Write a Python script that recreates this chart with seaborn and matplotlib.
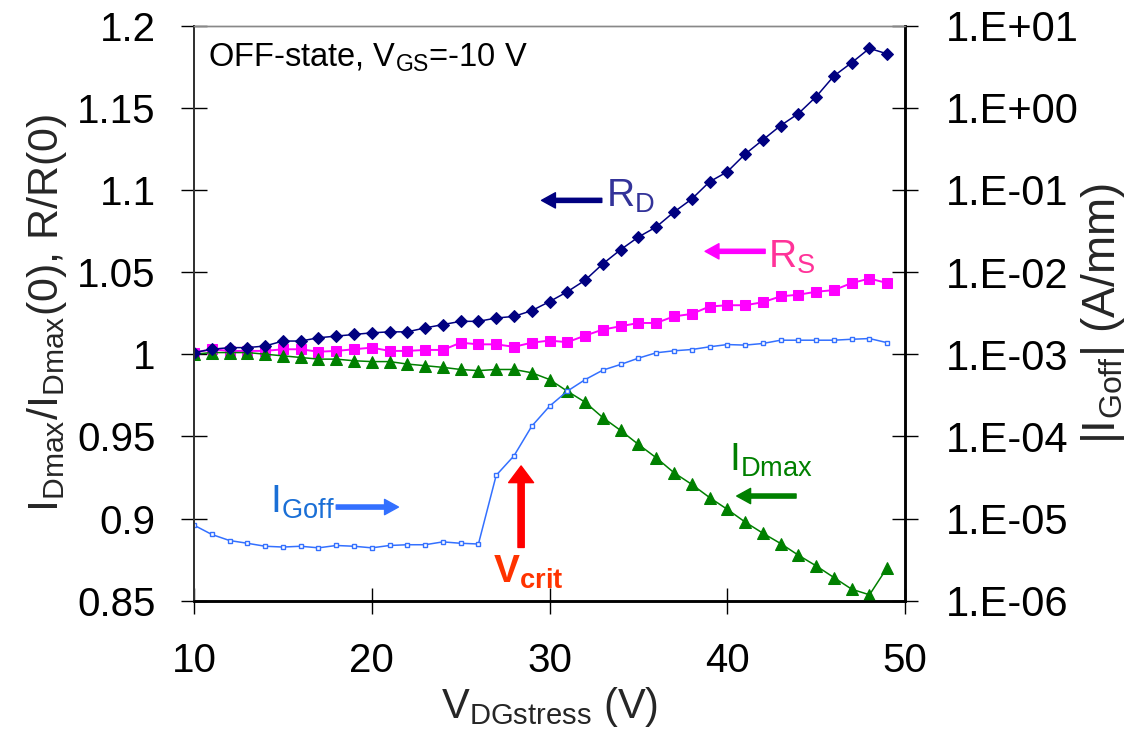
import numpy as np
import matplotlib
matplotlib.use("Agg")
import matplotlib.pyplot as plt
import seaborn as sns

# stress voltage (V)
v_stress = [10, 11, 12, 13, 14, 15, 16, 17, 18, 19,
            20, 21, 22, 23, 24, 25, 26, 27, 28, 29,
            30, 31, 32, 33, 34, 35, 36, 37, 38, 39,
            40, 41, 42, 43, 44, 45, 46, 47, 48, 49]

# R_D / R_D(0)
r_d = [1.001, 1.003, 1.004, 1.004, 1.005, 1.008, 1.008, 1.010, 1.011, 1.012,
       1.013, 1.0136, 1.0136, 1.016, 1.018, 1.020, 1.020, 1.022, 1.023, 1.0265,
       1.032, 1.038, 1.045, 1.055, 1.0636, 1.0713, 1.0774, 1.0865, 1.0944, 1.1049,
       1.111, 1.1217, 1.1304, 1.1391, 1.1464, 1.1567, 1.1693, 1.1774, 1.1861, 1.1827]

# R_S / R_S(0)
r_s = [1.001, 1.003, 1.002, 1.002, 1.002, 1.003, 1.003, 1.0015, 1.002, 1.003,
       1.004, 1.002, 1.002, 1.0026, 1.0026, 1.007, 1.006, 1.006, 1.0045, 1.007,
       1.0083, 1.0073, 1.0113, 1.015, 1.017, 1.019, 1.019, 1.023, 1.0245, 1.029,
       1.0298, 1.0298, 1.0316, 1.0352, 1.0362, 1.038, 1.039, 1.0433, 1.046, 1.0433]

# I_Dmax / I_Dmax(0)
i_dmax = [1.000, 1.001, 1.001, 1.001, 1.000, 0.999, 0.998, 0.997, 0.997, 0.996,
          0.9955, 0.9955, 0.994, 0.993, 0.992, 0.9907, 0.990, 0.9907, 0.9907, 0.9887,
          0.9846, 0.9775, 0.9708, 0.9614, 0.9536, 0.9451, 0.9370, 0.9279, 0.9208, 0.9128,
          0.9056, 0.8979, 0.8911, 0.8848, 0.8777, 0.8712, 0.8641, 0.8570, 0.8536, 0.8702]

# |I_Goff| (A/mm), right log axis
i_goff = [8.3e-6, 6.4e-6, 5.4e-6, 5.0e-6, 4.6e-6, 4.5e-6, 4.6e-6, 4.4e-6, 4.7e-6, 4.6e-6,
          4.4e-6, 4.7e-6, 4.8e-6, 4.8e-6, 5.2e-6, 5.0e-6, 4.9e-6, 3.36e-5, 5.8e-5, 1.33e-4,
          2.33e-4, 3.55e-4, 4.9e-4, 6.4e-4, 7.5e-4, 8.95e-4, 1.04e-3, 1.10e-3, 1.14e-3, 1.23e-3,
          1.31e-3, 1.29e-3, 1.35e-3, 1.48e-3, 1.48e-3, 1.48e-3, 1.48e-3, 1.52e-3, 1.55e-3, 1.38e-3]

x_ticks = [10, 20, 30, 40, 50]
left_ticks = [0.85, 0.9, 0.95, 1.0, 1.05, 1.1, 1.15, 1.2]
left_labels = ["0.85", "0.9", "0.95", "1", "1.05", "1.1", "1.15", "1.2"]
right_ticks = [1e-6, 1e-5, 1e-4, 1e-3, 1e-2, 1e-1, 1e0, 1e1]
right_labels = ["1.E-06", "1.E-05", "1.E-04", "1.E-03", "1.E-02", "1.E-01", "1.E+00", "1.E+01"]

sns.set_theme(style="white")
plt.rcParams['font.family'] = ['Liberation Sans', 'DejaVu Sans']
plt.rcParams['mathtext.fontset'] = 'custom'
plt.rcParams['mathtext.rm'] = 'Liberation Sans'
plt.rcParams['mathtext.sf'] = 'Liberation Sans'
plt.rcParams['mathtext.it'] = 'Liberation Sans:italic'
plt.rcParams['mathtext.bf'] = 'Liberation Sans:bold'
plt.rcParams['mathtext.default'] = 'regular'

fig = plt.figure(figsize=(11.42, 7.35), dpi=100)
ax = fig.add_axes([0.1699, 0.1827, 0.6226, 0.7826])
ax2 = ax.twinx()
ax2.set_yscale('log')

sns.lineplot(x=v_stress, y=r_d, ax=ax, color='#000080', linewidth=1.1,
             marker='D', markersize=6, markeredgecolor='#000080', zorder=4)
sns.lineplot(x=v_stress, y=r_s, ax=ax, color='#ff00ff', linewidth=1.4,
             marker='s', markersize=7.5, markeredgecolor='#ff00ff', zorder=3)
sns.lineplot(x=v_stress, y=i_dmax, ax=ax, color='#008000', linewidth=1.1,
             marker='^', markersize=8.5, markeredgecolor='#008000', zorder=3)
sns.lineplot(x=v_stress, y=i_goff, ax=ax2, color='#3370ff', linewidth=1.1,
             marker='s', markersize=3, markerfacecolor='white',
             markeredgecolor='#3370ff', markeredgewidth=1)

ax.set_xlim(10, 50)
ax.set_ylim(0.85, 1.2)
ax2.set_ylim(1e-6, 1e1)

ax.set_xticks(x_ticks)
ax.set_xticklabels([str(t) for t in x_ticks], fontsize=29)
ax.set_yticks(left_ticks)
ax.set_yticklabels(left_labels, fontsize=29)
ax2.set_yticks(right_ticks)
ax2.set_yticklabels(right_labels, fontsize=30)
ax2.minorticks_off()

ax.tick_params(axis='x', direction='inout', length=19, width=1, pad=20, colors='black')
ax.tick_params(axis='y', direction='inout', length=19, width=1, pad=18, colors='black')
ax2.tick_params(axis='y', direction='inout', length=19, width=1, pad=20, colors='black')
ax.tick_params(left=True, bottom=True)
ax2.tick_params(right=True)

for a in (ax, ax2):
    a.spines['left'].set_color('#333333')
    a.spines['left'].set_linewidth(1.4)
    a.spines['bottom'].set_color('black')
    a.spines['bottom'].set_linewidth(1.8)
    a.spines['right'].set_color('black')
    a.spines['right'].set_linewidth(1.8)
    a.spines['top'].set_color('#888888')
    a.spines['top'].set_linewidth(1)

ax.set_xlabel('V$_{DGstress}$ (V)', fontsize=30, labelpad=4)
ax.set_ylabel('I$_{Dmax}$/I$_{Dmax}$(0), R/R(0)', fontsize=31, labelpad=6)
ax2.set_ylabel('|I$_{Goff}$| (A/mm)', fontsize=33, labelpad=0)

# annotations
ax.text(10.8, 1.175, 'OFF-state, V$_{GS}$=-10 V', fontsize=23.5, color='black', va='baseline')

arrow = dict(width=3, headwidth=11, headlength=10, shrink=0)
ax.annotate('', xy=(29.55, 1.0936), xytext=(32.94, 1.0936),
            arrowprops=dict(color='#000080', **arrow))
ax.text(33.2, 1.0899, 'R$_D$', fontsize=28, color='#333399', va='baseline')

ax.annotate('', xy=(38.75, 1.0626), xytext=(42.13, 1.0626),
            arrowprops=dict(color='#ff00ff', **arrow))
ax.text(42.3, 1.0527, 'R$_S$', fontsize=28, color='#ff3399', va='baseline')

ax.annotate('', xy=(21.5, 0.9070), xytext=(18.0, 0.9070),
            arrowprops=dict(color='#3370ff', **arrow))
ax.text(14.3, 0.9038, 'I$_{Goff}$', fontsize=28, color='#1a6fd6', va='baseline')

ax.annotate('', xy=(40.53, 0.9137), xytext=(43.87, 0.9137),
            arrowprops=dict(color='#008000', **arrow))
ax.text(40.1, 0.9289, 'I$_{Dmax}$', fontsize=28, color='#008000', va='baseline')

ax.annotate('', xy=(28.4, 0.932), xytext=(28.4, 0.8824),
            arrowprops=dict(color='#ff0000', width=4.5, headwidth=18, headlength=12, shrink=0))
ax.text(26.8, 0.8611, r'V$_{\mathbf{crit}}$', fontsize=28, color='#ff3300',
        fontweight='bold', va='baseline')

fig.savefig('out.png', dpi=100)
